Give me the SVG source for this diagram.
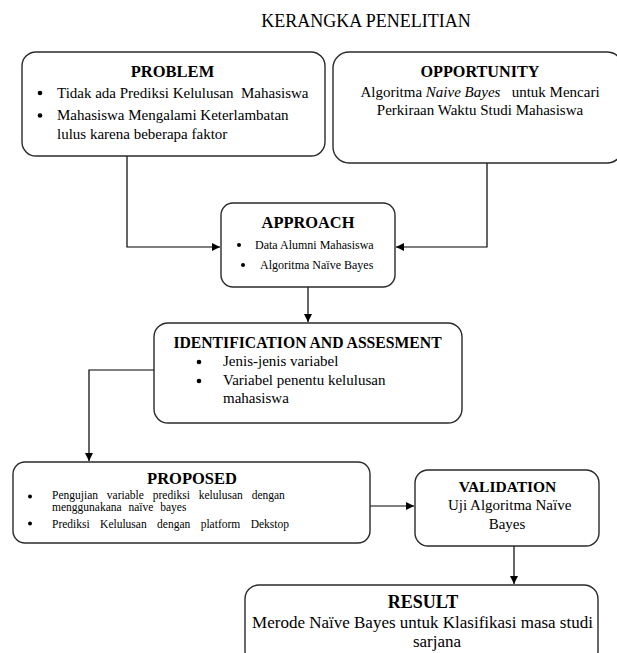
<svg xmlns="http://www.w3.org/2000/svg" width="617" height="653" viewBox="0 0 617 653">
<style>
  .box { fill: #ffffff; stroke: #2a2a2a; stroke-width: 1.4; }
  .t { font-family: "Liberation Serif", "Times New Roman", serif; fill: #000; }
  .h { font-weight: bold; text-anchor: middle; }
  .c { text-anchor: middle; }
  .conn { fill: none; stroke: #000; stroke-width: 1.2; }
  .dot { fill: #000; }
</style>
<defs>
  <marker id="arr" viewBox="0 0 10 10" refX="10" refY="5" markerWidth="8" markerHeight="8" markerUnits="userSpaceOnUse" orient="auto">
    <path d="M0,0 L10,5 L0,10 Z" fill="#000"/>
  </marker>
</defs>
<rect width="617" height="653" fill="#ffffff"/>

<text class="t" x="366" y="27" font-size="18" text-anchor="middle">KERANGKA PENELITIAN</text>

<g id="connectors">
  <path class="conn" d="M127,156 V247 H220" marker-end="url(#arr)"/>
  <path class="conn" d="M487,163 V247 H396" marker-end="url(#arr)"/>
  <path class="conn" d="M308,287 V322" marker-end="url(#arr)"/>
  <path class="conn" d="M154,370 H89 V461" marker-end="url(#arr)"/>
  <path class="conn" d="M370,506 H414" marker-end="url(#arr)"/>
  <path class="conn" d="M514,546 V584" marker-end="url(#arr)"/>
</g>

<g id="problem">
  <rect class="box" x="22" y="52" width="303" height="104" rx="14"/>
  <text class="t h" x="172.5" y="77" font-size="16.5">PROBLEM</text>
  <circle class="dot" cx="40" cy="93" r="2.3"/>
  <text class="t" x="57" y="97.5" font-size="15" xml:space="preserve">Tidak ada Prediksi Kelulusan  Mahasiswa</text>
  <circle class="dot" cx="40" cy="115.5" r="2.3"/>
  <text class="t" x="57" y="120" font-size="15">Mahasiswa Mengalami Keterlambatan</text>
  <text class="t" x="57" y="139" font-size="15">lulus karena beberapa faktor</text>
</g>

<g id="opportunity">
  <rect class="box" x="333" y="52" width="290" height="111" rx="16"/>
  <text class="t h" x="480" y="77" font-size="16.2">OPPORTUNITY</text>
  <text class="t c" x="480" y="97" font-size="15" xml:space="preserve">Algoritma <tspan font-style="italic">Naive Bayes</tspan>   untuk Mencari</text>
  <text class="t c" x="480" y="115" font-size="15">Perkiraan Waktu Studi Mahasiswa</text>
</g>

<g id="approach">
  <rect class="box" x="221" y="203" width="174" height="84" rx="12"/>
  <text class="t h" x="308" y="228" font-size="16.4">APPROACH</text>
  <circle class="dot" cx="239" cy="245" r="2"/>
  <text class="t" x="255" y="249" font-size="12">Data Alumni Mahasiswa</text>
  <circle class="dot" cx="243" cy="265" r="2"/>
  <text class="t" x="260" y="269" font-size="12">Algoritma Naïve Bayes</text>
</g>

<g id="identification">
  <rect class="box" x="154" y="323" width="308" height="100" rx="14"/>
  <text class="t h" x="307.5" y="348" font-size="15.7">IDENTIFICATION AND ASSESMENT</text>
  <circle class="dot" cx="199" cy="362" r="2.3"/>
  <text class="t" x="223" y="365.5" font-size="15">Jenis-jenis variabel</text>
  <circle class="dot" cx="199" cy="381" r="2.3"/>
  <text class="t" x="223" y="384.5" font-size="15">Variabel penentu kelulusan</text>
  <text class="t" x="223" y="403" font-size="15">mahasiswa</text>
</g>

<g id="proposed">
  <rect class="box" x="13" y="462" width="357" height="81" rx="12"/>
  <text class="t h" x="192" y="484" font-size="16.5">PROPOSED</text>
  <circle class="dot" cx="30" cy="496.5" r="2"/>
  <text class="t" x="52" y="499" font-size="11.5" word-spacing="6">Pengujian variable prediksi kelulusan dengan</text>
  <text class="t" x="52" y="511" font-size="11.5" word-spacing="4">menggunakana naïve bayes</text>
  <circle class="dot" cx="30" cy="523.5" r="2"/>
  <text class="t" x="52" y="527.5" font-size="11.5" word-spacing="7.5">Prediksi Kelulusan dengan platform Dekstop</text>
</g>

<g id="validation">
  <rect class="box" x="415" y="470" width="184" height="76" rx="13"/>
  <text class="t h" x="507.5" y="492" font-size="15.5">VALIDATION</text>
  <text class="t" x="448" y="510" font-size="15">Uji Algoritma Naïve</text>
  <text class="t c" x="507" y="529" font-size="15">Bayes</text>
</g>

<g id="result">
  <rect class="box" x="245" y="585" width="353" height="80" rx="14"/>
  <text class="t h" x="423" y="608" font-size="18">RESULT</text>
  <text class="t c" x="422.5" y="628" font-size="17">Merode Naïve Bayes untuk Klasifikasi masa studi</text>
  <text class="t c" x="437" y="647" font-size="17">sarjana</text>
</g>
</svg>
